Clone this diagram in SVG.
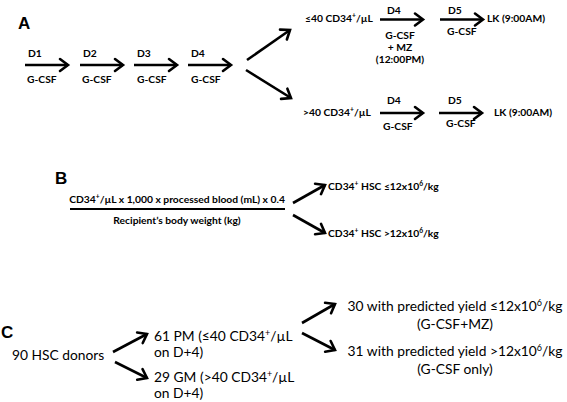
<svg xmlns="http://www.w3.org/2000/svg" width="567" height="402" viewBox="0 0 567 402">
<defs>
<marker id="ah" markerUnits="userSpaceOnUse" markerWidth="20" markerHeight="20" refX="0" refY="0" viewBox="-12 -10 16 20" orient="auto" overflow="visible">
<path d="M-8,-6 L0,0 L-8,6" fill="none" stroke="#000" stroke-width="2.6" stroke-linecap="round" stroke-linejoin="miter"/>
</marker>
<style>
text{font-family:Lato,"Noto Sans",sans-serif;fill:#000}
.a{font-size:10.3px;font-weight:bold}
.l{font-size:17px;font-weight:bold;font-family:"Liberation Sans",Arial,sans-serif}
.c{font-size:13.8px}
.mid{text-anchor:middle}
.arr line{stroke:#000;stroke-width:2.6;marker-end:url(#ah)}
.sup{font-size:65%}
</style>
</defs>
<rect width="567" height="402" fill="#fff"/>
<g id="labels">
<text class="l" x="18" y="29">A</text>
<text class="l" x="55" y="184">B</text>
<text class="l" x="1" y="338">C</text>
</g>
<g id="connectors" class="arr">
<line x1="25" y1="65" x2="68" y2="65"/>
<line x1="80" y1="65" x2="123" y2="65"/>
<line x1="134" y1="65" x2="177" y2="65"/>
<line x1="188" y1="65" x2="231" y2="65"/>
<line x1="247" y1="60" x2="290" y2="30"/>
<line x1="246" y1="70" x2="291" y2="98"/>
<line x1="380" y1="19.5" x2="423" y2="19.5"/>
<line x1="440" y1="19.5" x2="483" y2="19.5"/>
<line x1="380" y1="113" x2="423" y2="113"/>
<line x1="439" y1="113" x2="482" y2="113"/>
<line x1="293" y1="203" x2="325" y2="185"/>
<line x1="293" y1="215" x2="325" y2="233"/>
<line x1="113" y1="352" x2="147" y2="334"/>
<line x1="115" y1="362" x2="147" y2="378"/>
<line x1="302" y1="323" x2="335" y2="304"/>
<line x1="302" y1="333" x2="335" y2="350"/>
</g>
<g id="stepD1"><text class="a" x="28" y="57">D1</text><text class="a" x="27" y="83">G-CSF</text></g>
<g id="stepD2"><text class="a" x="83" y="57">D2</text><text class="a" x="82" y="83">G-CSF</text></g>
<g id="stepD3"><text class="a" x="137" y="57">D3</text><text class="a" x="137" y="83">G-CSF</text></g>
<g id="stepD4"><text class="a" x="191" y="57">D4</text><text class="a" x="191" y="83">G-CSF</text></g>
<g id="lowCount"><text class="a" x="305" y="22">≤40 CD34<tspan class="sup" baseline-shift="super">+</tspan>/µL</text></g>
<g id="lowD4"><text class="a" x="387" y="14">D4</text><text class="a mid" x="400" y="39">G-CSF</text><text class="a mid" x="400" y="51">+ MZ</text><text class="a mid" x="400" y="63">(12:00PM)</text></g>
<g id="lowD5"><text class="a" x="448" y="14">D5</text><text class="a" x="447" y="35">G-CSF</text></g>
<g id="lowLK"><text class="a" x="487" y="22">LK (9:00AM)</text></g>
<g id="highCount"><text class="a" x="303" y="116">&gt;40 CD34<tspan class="sup" baseline-shift="super">+</tspan>/µL</text></g>
<g id="highD4"><text class="a" x="387" y="104">D4</text><text class="a" x="383" y="130">G-CSF</text></g>
<g id="highD5"><text class="a" x="448" y="104">D5</text><text class="a" x="446" y="127">G-CSF</text></g>
<g id="highLK"><text class="a" x="494" y="116">LK (9:00AM)</text></g>
<g id="formula">
<text class="a mid" x="177" y="203">CD34<tspan class="sup" baseline-shift="super">+</tspan>/µL x 1,000 x processed blood (mL) x 0.4</text>
<line x1="70" y1="209" x2="285" y2="209" stroke="#000" stroke-width="2"/>
<text class="a mid" x="177" y="224">Recipient’s body weight (kg)</text>
</g>
<g id="hscLow"><text class="a" x="328" y="190">CD34<tspan class="sup" baseline-shift="super">+</tspan> HSC ≤12x10<tspan class="sup" baseline-shift="super">6</tspan>/kg</text></g>
<g id="hscHigh"><text class="a" x="328" y="237">CD34<tspan class="sup" baseline-shift="super">+</tspan> HSC &gt;12x10<tspan class="sup" baseline-shift="super">6</tspan>/kg</text></g>
<g id="donors"><text class="c" x="12" y="360">90 HSC donors</text></g>
<g id="pm"><text class="c" x="154" y="341">61 PM (≤40 CD34<tspan class="sup" baseline-shift="super">+</tspan>/µL</text><text class="c" x="154" y="357">on D+4)</text></g>
<g id="gm"><text class="c" x="154" y="382">29 GM (&gt;40 CD34<tspan class="sup" baseline-shift="super">+</tspan>/µL</text><text class="c" x="154" y="398">on D+4)</text></g>
<g id="yieldLow"><text class="c mid" x="455" y="311">30 with predicted yield ≤12x10<tspan class="sup" baseline-shift="super">6</tspan>/kg</text><text class="c mid" x="455" y="329">(G-CSF+MZ)</text></g>
<g id="yieldHigh"><text class="c mid" x="455" y="356">31 with predicted yield &gt;12x10<tspan class="sup" baseline-shift="super">6</tspan>/kg</text><text class="c mid" x="455" y="374">(G-CSF only)</text></g>
</svg>
